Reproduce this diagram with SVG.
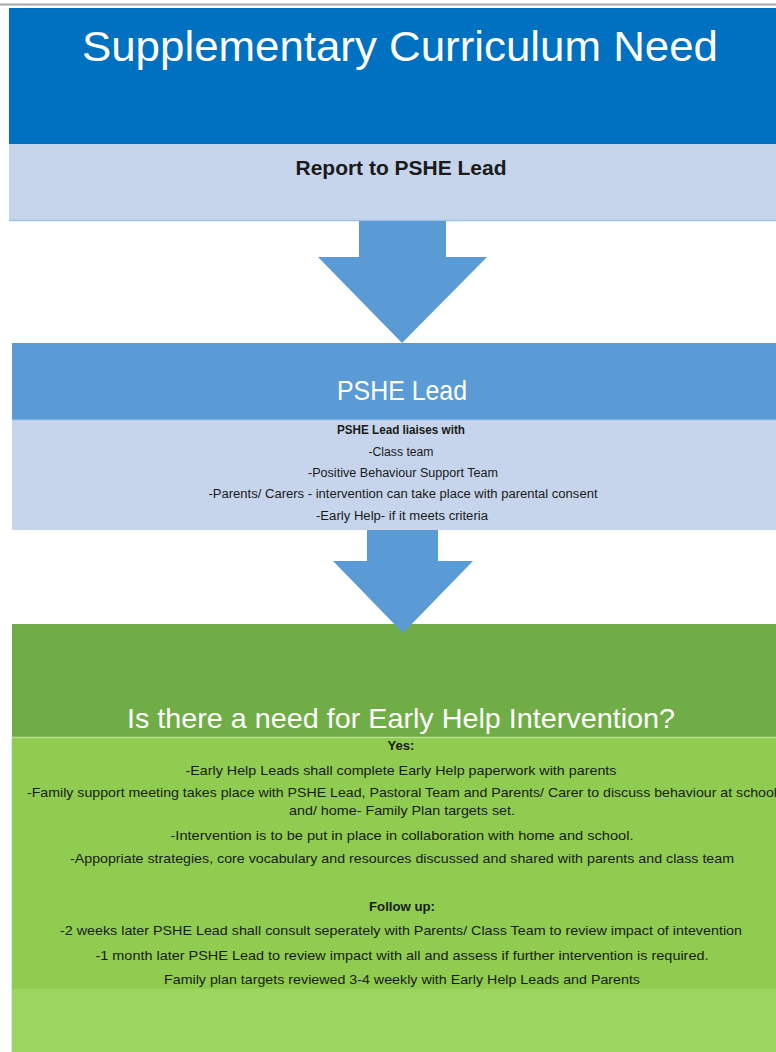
<svg xmlns="http://www.w3.org/2000/svg" width="776" height="1052" viewBox="0 0 776 1052">
<style>
.t{font-family:"Liberation Sans",Arial,sans-serif;text-anchor:middle}
.w{fill:#ffffff}
.k{fill:#1a1a1a}
.b{font-weight:bold}
.s{font-size:12.5px}
.m{font-size:13.5px}
.arrow{fill:#5B9BD5}
</style>
<rect x="0" y="0" width="776" height="1052" fill="#ffffff"/>
<line x1="0" y1="4.5" x2="776" y2="4.5" stroke="#a6a6a6" stroke-width="2"/>
<g id="header">
<rect x="9" y="8" width="767" height="136" fill="#0070C0"/>
<text class="t w" x="400" y="61" font-size="42" textLength="636" lengthAdjust="spacingAndGlyphs">Supplementary Curriculum Need</text>
</g>
<g id="report">
<rect x="9" y="144" width="767" height="76" fill="#C6D5EB"/>
<line x1="9" y1="220.5" x2="776" y2="220.5" stroke="#9DC3E6" stroke-width="1.5"/>
<text class="t k b" x="401" y="175" font-size="21" textLength="211" lengthAdjust="spacingAndGlyphs">Report to PSHE Lead</text>
</g>
<g id="pshe-lead">
<rect x="12" y="343" width="764" height="77" fill="#5B9BD5"/>
<text class="t w" x="402" y="400" font-size="28" textLength="130" lengthAdjust="spacingAndGlyphs">PSHE Lead</text>
<rect x="12" y="420" width="764" height="110" fill="#C6D5EB"/>
<line x1="12" y1="420" x2="776" y2="420" stroke="#A9C5E8" stroke-width="1"/>
<text class="t k b s" x="401" y="434" textLength="128" lengthAdjust="spacingAndGlyphs">PSHE Lead liaises with</text>
<text class="t k s" x="401" y="456" textLength="65" lengthAdjust="spacingAndGlyphs">-Class team</text>
<text class="t k s" x="403" y="477" textLength="190" lengthAdjust="spacingAndGlyphs">-Positive Behaviour Support Team</text>
<text class="t k s" x="403" y="498" textLength="389" lengthAdjust="spacingAndGlyphs">-Parents/ Carers - intervention can take place with parental consent</text>
<text class="t k s" x="402" y="520" textLength="172" lengthAdjust="spacingAndGlyphs">-Early Help- if it meets criteria</text>
</g>
<g id="early-help">
<rect x="12" y="624" width="764" height="113" fill="#70AD47"/>
<text class="t w" x="401" y="728" font-size="28" textLength="548" lengthAdjust="spacingAndGlyphs">Is there a need for Early Help Intervention?</text>
<rect x="12" y="737" width="764" height="252" fill="#8FCC4F"/>
<rect x="12" y="989" width="764" height="63" fill="#9CD55F"/>
<line x1="12" y1="737.5" x2="776" y2="737.5" stroke="#B6DE8E" stroke-width="1.5"/>
<line x1="11.5" y1="737" x2="11.5" y2="1052" stroke="#d8e8f0" stroke-width="1"/>
<text class="t k b m" x="401" y="750" textLength="27" lengthAdjust="spacingAndGlyphs">Yes:</text>
<text class="t k m" x="401" y="775" textLength="431" lengthAdjust="spacingAndGlyphs">-Early Help Leads shall complete Early Help paperwork with parents</text>
<text class="t k m" x="402" y="797" textLength="750" lengthAdjust="spacingAndGlyphs">-Family support meeting takes place with PSHE Lead, Pastoral Team and Parents/ Carer to discuss behaviour at school</text>
<text class="t k m" x="402" y="815" textLength="226" lengthAdjust="spacingAndGlyphs">and/ home- Family Plan targets set.</text>
<text class="t k m" x="402" y="840" textLength="463" lengthAdjust="spacingAndGlyphs">-Intervention is to be put in place in collaboration with home and school.</text>
<text class="t k m" x="402" y="863" textLength="664" lengthAdjust="spacingAndGlyphs">-Appopriate strategies, core vocabulary and resources discussed and shared with parents and class team</text>
<text class="t k b m" x="402" y="911" textLength="66" lengthAdjust="spacingAndGlyphs">Follow up:</text>
<text class="t k m" x="401" y="935" textLength="682" lengthAdjust="spacingAndGlyphs">-2 weeks later PSHE Lead shall consult seperately with Parents/ Class Team to review impact of intevention</text>
<text class="t k m" x="402" y="960" textLength="613" lengthAdjust="spacingAndGlyphs">-1 month later PSHE Lead to review impact with all and assess if further intervention is required.</text>
<text class="t k m" x="402" y="984" textLength="476" lengthAdjust="spacingAndGlyphs">Family plan targets reviewed 3-4 weekly with Early Help Leads and Parents</text>
</g>
<g id="connectors">
<polygon class="arrow" points="359,221 446,221 446,257 487,257 402,343 318,257 359,257"/>
<polygon class="arrow" points="367,530 438,530 438,561 473,561 403,633 333,561 367,561"/>
</g>
</svg>
